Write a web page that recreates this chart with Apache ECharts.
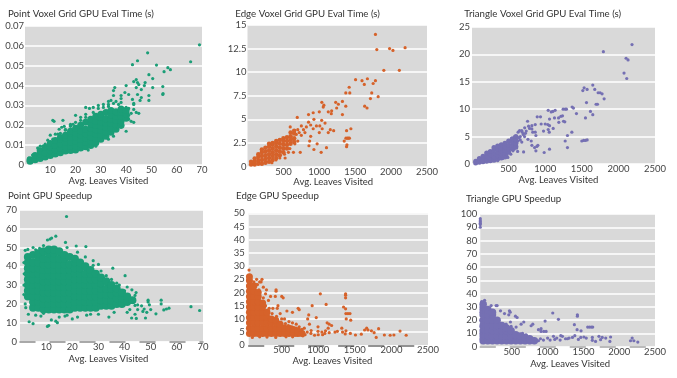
<!DOCTYPE html>
<html><head><meta charset="utf-8">
<style>html,body{margin:0;background:#fff}#c{width:677px;height:378px}</style>
<script src="https://cdn.jsdelivr.net/npm/echarts@6/dist/echarts.min.js"></script></head>
<body><div id="c"></div>
<script>
// The reference's dense clouds hold thousands of
// unreadable points, so each "core" list is a hand-read coverage of the cloud's solid area,
// drawn with larger marks: [x, [y, y, ...]]. Each "fringe" list holds the individually readable points.
const pointTimeCore=[[2,[.0019,.0026]],[4,[.0026,.0048]],[6,[.0033,.0055,.0072]],[8,[.004,.0062,.0088]],[10,[.0048,.007,.0092,.0108]],[12,[.0055,.0077,.0099,.0124]],[14,[.0062,.0084,.0106,.0128,.0138]],[16,[.007,.0092,.0114,.0136,.015]],[18,[.0073,.0095,.0117,.0139,.0161,.017]],[20,[.0075,.0097,.0119,.0141,.0163,.0185]],[22,[.0085,.0107,.0129,.0151,.0173,.02]],[24,[.0092,.0114,.0136,.0158,.018,.0215]],[26,[.0098,.012,.0142,.0164,.0186,.0208,.023]],[28,[.0112,.0134,.0156,.0178,.02,.0222,.0245]],[30,[.013,.0152,.0174,.0196,.0218,.024,.0255]],[32,[.0145,.0167,.0189,.0211,.0233,.0265]],[34,[.0165,.0187,.0209,.0231,.0253,.0275]],[36,[.018,.0202,.0224,.0246,.0268]],[38,[.02,.0222,.0244,.0266,.0282]],[40,[.0235,.0257,.0275]]];
const pointTimeFringe=[[69,.0605],[65.5,.052],[57.5,.048],[56.5,.049],[55,.047],[52,.0503],[48.5,.0565],[44.5,.0525],[42.5,.0505],[49,.0455],[50.5,.0435],[47.5,.0415],[47.2,.04],[44,.043],[43,.042],[44.5,.0415],[45,.0405],[46,.038],[50.5,.039],[54.5,.0395],[54.5,.0355],[54.6,.036],[49,.0325],[49,.035],[46,.034],[45.5,.0325],[44.5,.0355],[44,.039],[40,.04],[35.5,.039],[35,.0375],[35,.035],[38,.035],[38,.0335],[39.5,.0365],[41,.0355],[42.5,.033],[43,.031],[33,.032],[33,.0305],[29,.03],[27,.029],[25.5,.0285],[24,.029],[40,.017],[38,.019],[36,.018],[42,.022],[43,.0215],[44,.0265],[45,.026],[11,.0225],[11.5,.022],[15,.0225],[14.5,.019],[15.5,.0195],[13.5,.018],[20,.025],[22,.024],[18,.0195],[19,.0205],[10,.015],[7,.0095],[5,.0085],[8,.0105],[11,.013],[13,.0155],[18,.02],[24,.024],[16,.018],[25,.0075],[28,.0095],[33,.013],[35,.0145],[41,.025],[41,.0285],[43,.0305],[38,.0315],[36,.032],[34,.0325],[31,.0305],[29,.0285],[27,.0265],[40,.029],[41,.023],[12,.0155],[9,.0125],[6,.0095],[3,.005],[1.5,.002],[1.5,.0035],[37,.0305],[35,.031],[33,.0295],[31,.029],[24,.0255],[22,.0225],[20,.0215],[18,.0205],[16,.0175],[14,.016],[42,.026],[43,.028]];
const pointSpeedCore=[[3,[24,27,30,33,36,39,42,45]],[5,[18,21,24,27,30,33,36,39,42,46]],[7,[18,21,24,27,30,33,36,39,42,45,47]],[9,[17,20,23,26,29,32,35,38,41,44,48]],[11,[17,20,23,26,29,32,35,38,41,44,47,49]],[13,[17,20,23,26,29,32,35,38,41,44,47,49]],[15,[17,20,23,26,29,32,35,38,41,44,48]],[17,[17,20,23,26,29,32,35,38,41,44,46]],[19,[17,20,23,26,29,32,35,38,41,45]],[21,[18,21,24,27,30,33,36,39,42,44]],[23,[18,21,24,27,30,33,36,39,42]],[25,[18,21,24,27,30,33,36,40]],[27,[18,21,24,27,30,33,36,38]],[29,[18,21,24,27,30,33,36]],[31,[19,22,25,28,31,34]],[33,[19,22,25,28,32]],[35,[19,22,25,28,30]],[37,[20,23,26,28]],[39,[20,23,26]],[41,[21,24]],[43,[22]]];
const pointSpeedFringe=[[17.8,66.5],[13.7,56],[12.1,55],[10.5,54],[11.5,54.5],[17.4,52.7],[21.5,50.8],[25.2,50.5],[35.5,39],[40.2,35],[41,29],[42.8,27.5],[44.4,26],[44,24.5],[49,22],[54,22],[54,20],[65.4,18.5],[68.7,16.5],[49,21],[49.5,19.5],[46.5,19],[45,19.5],[44,19.2],[45,17],[47.5,17.3],[47,16],[44,14.5],[42.7,12.5],[44.5,12.3],[48,12.5],[52,14.7],[55,16.8],[56,17.3],[57,17.7],[50,17],[48.5,15.5],[41,15.5],[42,17],[3.5,10.5],[5,9.5],[10.5,8],[11,8.5],[13.7,10.8],[14.3,10],[12,11.5],[3.2,14.5],[2,20],[2.2,18],[20,12],[17.2,13.5],[22,13],[25.5,14],[30,14.5],[34,13],[1.5,25],[1.5,30],[1.6,36],[1.5,42],[2,48.5],[30,41],[33,35],[37,31],[28,43],[5,50],[7.5,49.5],[3,49],[6,48.8],[9,51],[18,50],[22,47.5],[25,45],[28,40.5],[31,37.5],[35,33],[38,30],[40,27],[6,14],[8,13.5],[15,13],[9,15],[18,14],[27,14.5],[36,15.5]];
const edgeTimeCore=[[50,[.2,.5]],[100,[.2,.5,.85]],[150,[.3,.6,1,1.3]],[200,[.3,.7,1.1,1.5,1.8]],[250,[.4,.8,1.2,1.6,2]],[300,[.5,.9,1.3,1.7,2.1,2.4]],[350,[.7,1.1,1.5,1.9,2.3,2.5]],[400,[.9,1.3,1.7,2.1,2.5,2.7]],[450,[1.2,1.6,2,2.4,2.8]],[500,[1.5,1.9,2.3,2.7,3]],[550,[1.9,2.3,2.7,3.1]],[600,[2.4,2.8,3.2,3.6]],[650,[2.6,3,3.5,3.8]]];
const edgeTimeFringe=[[1782,14],[1801,12.4],[1979,12.5],[2026,12.3],[2195,12.6],[1899,10.2],[2115,10.2],[1505,9.2],[1595,9.1],[1627,8.7],[1670,9.3],[1782,9.1],[1750,8.8],[1416,8.4],[1425,7.8],[1369,7.8],[1730,7.8],[1712,7.2],[1820,7.4],[1632,6.4],[1665,6.2],[1322,6.9],[1369,6.4],[1228,6.8],[1266,6.6],[1242,6.2],[1172,5.9],[1167,5.6],[1125,5.8],[1322,5.5],[1035,6.8],[1064,6.5],[1055,6.3],[1000,5.8],[915,5.7],[850,5.5],[693,5.2],[925,5],[1033,4.9],[1080,4.6],[850,4.7],[915,4],[1007,4.3],[1153,3.9],[1200,3.8],[1125,3.6],[1000,3.6],[1440,4],[1380,3.8],[1404,3],[1371,3],[1347,2.7],[1380,2.1],[1100,2],[1026,1.5],[970,2.4],[880,3.2],[866,2.7],[856,2.2],[925,1.8],[735,1.5],[640,1.5],[750,3.3],[820,4.2],[750,4.3],[595,4.2],[800,3.6],[515,1.3],[397,.7],[524,.9],[700,3.9],[720,3.6],[780,3.9],[680,3.4],[640,2.9],[660,2.4],[700,2.7],[590,1.9],[570,1.5],[1390,3],[1420,3],[1385,2.3],[960,4.3],[1040,4],[880,4.4],[450,.9],[340,.4]];
const edgeSpeedCore=[[60,[4.5,6.5,8.5,10.5,12.5,14.5,16.5,18.5,20.5,22.5,24.5,26]],[120,[4.5,6.5,8.5,10.5,12.5,14.5,16.5,18.5,20.5,22.5]],[180,[4.5,6.5,8.5,10.5,12.5,14.5,16.5,18.5,20]],[240,[4.5,6.5,8.5,10.5,12.5,14.5,16]],[300,[4.5,6.5,8.5,10.5,12.5]],[360,[4.5,6.5,8.5,10]],[420,[4.5,6.5,8.5,9.5]],[480,[4.5,6.5,8]],[540,[4.5,6.5]],[600,[4.5,6.5]],[660,[4.5,6]],[720,[4.5,5.5]],[780,[4.5]]];
const edgeSpeedFringe=[[30,49],[30,34],[55,28.5],[40,28],[158,25],[232,25],[219,24],[293,21],[424,21],[424,20.5],[502,18.5],[521,18],[349,18.5],[414,18.5],[280,19.5],[1029,19.5],[1374,19.5],[1374,19],[1374,18],[1108,15.5],[917,15],[1346,14.5],[1374,13.8],[740,13.5],[726,14],[648,12.5],[572,13],[870,11.5],[856,10],[973,10.5],[1378,12],[1406,12],[1434,12],[1444,9.5],[1383,10],[1122,8.5],[1150,8],[1183,7.5],[1136,6.5],[997,7],[880,8],[1322,6.5],[1229,5],[1262,5.3],[1332,5],[1379,5.5],[1369,4.3],[1439,4.5],[1509,3.9],[1589,4.2],[1634,5.8],[1662,6.5],[1680,5.8],[1727,5.5],[1764,4.8],[1825,6.3],[1792,3],[1904,3.9],[1983,3.8],[2034,3.9],[2118,5.4],[2202,3.8],[1090,4.5],[997,5.3],[903,5.6],[810,6.5],[740,7],[648,8.5],[552,8.2],[600,9],[500,10],[450,15],[440,14],[380,14],[320,17],[250,22],[200,24],[170,23],[820,4],[850,5],[900,4.5],[950,3.8],[1000,4],[1050,5],[1100,5.5],[1060,4],[1150,4.8],[700,8],[780,6],[30,3],[100,3],[200,3.2],[300,3.1],[420,3],[560,3.2],[650,3.2],[330,14],[280,15],[250,18],[190,21],[150,23],[120,24],[480,12],[430,11],[370,12],[540,10],[590,7.5],[640,7],[700,6.5],[760,5.8],[690,3.8],[740,3.9],[790,3.6]];
const triTimeCore=[[50,[.2,.5]],[100,[.3,.7,1]],[150,[.4,.9,1.4]],[200,[.5,1,1.5,2]],[250,[.6,1.1,1.7,2.3]],[300,[.7,1.3,1.9,2.6,3]],[350,[.9,1.5,2.1,2.7,3.3]],[400,[1.1,1.7,2.3,2.9,3.5]],[450,[1.3,1.9,2.5,3.1,3.8]],[500,[2.2,2.8,3.4,4.2]],[550,[2.8,3.4,4,4.6]],[600,[3.2,3.8,4.4,5]]];
const triTimeFringe=[[2186,21.8],[1795,20.5],[2105,19.3],[2132,19],[2077,16.6],[2114,15.6],[1650,14.4],[1532,13.9],[1514,13.4],[1573,13.6],[1677,13.6],[1723,13],[1750,13],[1777,12.8],[1805,11.9],[1564,11.2],[1695,10.9],[1714,10.9],[1368,10.4],[1386,10.2],[1245,10],[1273,10],[1290,10],[1041,9.8],[1136,9.8],[1082,9.5],[1105,9.6],[1427,9.2],[1618,9.6],[1650,9],[1550,8.4],[1214,8.7],[1236,8.8],[1182,8.4],[1127,8.4],[1059,8.2],[891,8.6],[936,8.6],[759,7.8],[1268,7.7],[1250,7.8],[1186,7.6],[1000,7.3],[1036,7.2],[1059,7],[945,7.3],[1109,6.5],[1041,6.3],[977,6],[1055,5.8],[1364,5.8],[1304,5.2],[1273,4.2],[1304,3],[1500,4.2],[1525,4.3],[1550,4.3],[1573,4.4],[1059,2.7],[986,2.1],[873,2.4],[886,3.2],[818,3.4],[855,3],[705,2.2],[577,2.7],[623,2.3],[490,1.2],[873,5.2],[864,5.8],[818,6.4],[773,6.9],[818,7],[864,7.2],[650,6.1],[686,5.8],[741,6],[786,6.5],[718,5],[764,4.5],[809,4.2],[627,4.2],[582,5],[660,5],[700,5.4],[640,4.8],[730,5.6],[830,5.8],[900,3.4],[530,1.8],[420,1],[630,5.8],[680,6.1],[720,6.6],[660,4.4],[680,4],[560,2.4],[610,2.9],[350,.6],[480,1.7]];
const triSpeedCore=[[100,[4.5,8,12,16,20,24,28,32]],[165,[4.5,8,12,16,20,24,28]],[230,[4.5,8,12,16,20,24,26]],[295,[4.5,8,12,16,20]],[360,[4.5,8,12,16]],[425,[4.5,8,12,14]],[490,[4.5,8,12]],[555,[4.5,8,9]],[620,[4.5,8]],[685,[4.5,7]],[750,[4.5,6]],[815,[4.5]]];
const triSpeedFringe=[[60,96.5],[60,95],[60,94],[60,93],[60,92],[60,90],[120,35],[80,34],[281,31],[212,31],[295,31],[342,27],[398,25],[467,27],[477,26],[458,24],[551,23],[574,22],[1072,25.4],[1416,24],[1416,23],[1151,20.6],[965,19.3],[1374,16.6],[1412,12.8],[1467,12],[1560,14.8],[1585,14.8],[1610,14.8],[1630,14.8],[667,18.6],[630,17],[793,17],[770,15.8],[872,12.8],[909,13.6],[947,11.5],[979,11.5],[909,11.5],[481,18.6],[421,17],[398,15.5],[491,15.3],[560,14.8],[1184,8.3],[1207,7.8],[1277,6],[1300,6.5],[1347,7],[1380,8.3],[1463,7],[1507,7.3],[1625,7],[1625,4.8],[1670,4],[1717,7.8],[1763,7],[1812,6.5],[1880,7.3],[1740,5.3],[1870,4],[2181,6.5],[2158,4.5],[2205,4.5],[2260,3.5],[1035,5],[1082,7.8],[1128,6.5],[1175,5],[942,5],[872,4.5],[800,6],[900,6],[700,9],[650,10],[1000,6.5],[1100,5.5],[1250,6],[1430,5.5],[1540,6.5],[70,30],[70,26],[70,20],[70,15],[70,10],[70,6]];
const xTicksLeaves=[10,20,30,40,50,60,70];
const xTicksBig=[500,1000,1500,2000,2500];
const titles=["Point Voxel Grid GPU Eval Time (s)","Edge Voxel Grid GPU Eval Time (s)","Triangle Voxel Grid GPU Eval Time (s)","Point GPU Speedup","Edge GPU Speedup","Triangle GPU Speedup"];
const xName="Avg. Leaves Visited";
const colPoint="#1b9e77",colEdge="#d6622a",colTri="#7570b3";
const expand=c=>c.flatMap(([x,ys])=>ys.map(y=>[x,y]));
const F="Lato";
const panels=[
 {t:titles[0],tx:8,ty:15.7,g:[25,26,202,165],xmin:0,xmax:70,xt:xTicksLeaves,ymax:.07,yi:.01,c:colPoint,core:pointTimeCore,cs:7,fr:pointTimeFringe,ym:1,nameShift:10,gap:9},
 {t:titles[1],tx:235.3,ty:15.7,g:[247.5,25,427,166.5],xmin:0,xmax:2500,xt:xTicksBig,ymax:15,yi:2.5,c:colEdge,core:edgeTimeCore,cs:4.5,fr:edgeTimeFringe,ym:1,nameShift:8,gap:8},
 {t:titles[2],tx:464.3,ty:15.7,g:[472,27,655,164],xmin:0,xmax:2500,xt:xTicksBig,ymax:25,yi:5,c:colTri,core:triTimeCore,cs:5,fr:triTimeFringe,ym:2,nameShift:10,gap:10},
 {t:titles[3],tx:8,ty:197.7,g:[20,209.9,203,341.5],xmin:0,xmax:70,xt:xTicksLeaves,ymax:70,yi:10,c:colPoint,core:pointSpeedCore,cs:8,fr:pointSpeedFringe,ym:3,nameShift:6,gap:12,dash:"#8d8d8d"},
 {t:titles[4],tx:236,ty:197,g:[248.7,213.3,428,345.3],xmin:50,xmax:2500,xt:xTicksBig,ymax:50,yi:5,c:colEdge,core:edgeSpeedCore,cs:7,fr:edgeSpeedFringe,ym:4,nameShift:12,gap:9,dash:"#6f6f6f"},
 {t:titles[5],tx:466,ty:200.7,g:[480.3,214,655,346.7],xmin:60,xmax:2500,xt:xTicksBig,ymax:100,yi:10,c:colTri,core:triSpeedCore,cs:7.5,fr:triSpeedFringe,ym:3,nameShift:-5,gap:12,dash:"#a5a5a5"}
];
const chart=echarts.init(document.getElementById('c'),null,{renderer:'canvas'});
const opt={animation:false,backgroundColor:'#fff',title:[],grid:[],xAxis:[],yAxis:[],series:[]};
panels.forEach((p,i)=>{
 opt.title.push({text:p.t,left:p.tx,top:p.ty-6.5,padding:0,textStyle:{fontFamily:F,fontSize:9.7,fontWeight:'normal',color:'#333'}});
 opt.grid.push({left:p.g[0],top:p.g[1],width:p.g[2]-p.g[0],height:p.g[3]-p.g[1],show:true,backgroundColor:'#d9d9d9',borderWidth:0});
 opt.xAxis.push({type:'value',gridIndex:i,min:p.xmin,max:p.xmax,name:xName,nameLocation:'middle',nameGap:p.gap,
  nameTextStyle:{fontFamily:F,fontSize:9.5,color:'#333',padding:[0,Math.max(p.nameShift,0),0,Math.max(-p.nameShift,0)]},
  axisLine:p.dash?{show:true,onZero:false,lineStyle:{color:p.dash,width:1.5,type:[15,15]}}:{show:false},
  axisTick:{show:false},splitLine:{show:false},
  axisLabel:{customValues:p.xt,margin:0,formatter:v=>String(v),fontFamily:F,fontSize:9.5,color:'#444',hideOverlap:false,showMinLabel:true,showMaxLabel:true}});
 opt.yAxis.push({type:'value',gridIndex:i,min:0,max:p.ymax,interval:p.yi,
  axisLine:{show:false},axisTick:{show:false},
  splitLine:{show:true,lineStyle:{color:'#fff',width:1.5}},
  axisLabel:{margin:p.ym,fontFamily:F,fontSize:9.5,color:'#444'}});
 const s={type:'scatter',xAxisIndex:i,yAxisIndex:i,silent:true,itemStyle:{color:p.c,opacity:1}};
 opt.series.push({...s,symbolSize:p.cs,data:expand(p.core)});
 opt.series.push({...s,symbolSize:3.2,data:p.fr});
});
chart.setOption(opt);
</script></body></html>
